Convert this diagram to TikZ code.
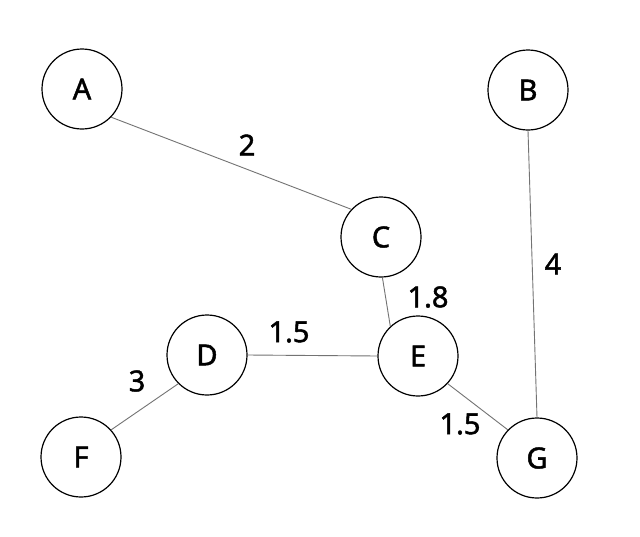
\documentclass[tikz,border=0pt]{standalone}
\usepackage{fontspec}
\setmainfont{Noto Sans}[FakeBold=1.6]
\begin{document}
\begin{tikzpicture}[x=1pt,y=-1pt,
  vert/.style={circle,draw=black,line width=1.2pt,minimum size=80pt,inner sep=0pt,font=\fontsize{29}{32}\bfseries},
  edge/.style={draw=black!55,line width=0.9pt},
  wlabel/.style={inner sep=0pt,font=\fontsize{29}{32}\bfseries}]
\useasboundingbox[fill=white] (0,0) rectangle (640,536);
\node[vert] (A) at (82,89) {A};
\node[vert] (B) at (528,90) {B};
\node[vert] (C) at (381,237) {C};
\node[vert] (D) at (207,355) {D};
\node[vert] (E) at (418,356) {E};
\node[vert] (F) at (81,457) {F};
\node[vert] (G) at (537,458) {G};
\draw[edge] (A.-44) -- (C.137);
\draw[edge] (B.south) -- (G.north);
\draw[edge] (C.-88) -- (E.133);
\draw[edge] (D.east) -- (E.west);
\draw[edge] (D.-135) -- (F.42);
\draw[edge] (E.-43) -- (G.136);
\node[wlabel] (l1) at (247,145) {2};
\node[wlabel] (l2) at (553,264) {4};
\node[wlabel] (l3) at (428,297) {1.8};
\node[wlabel] (l4) at (289,332) {1.5};
\node[wlabel] (l5) at (137,381) {3};
\node[wlabel] (l6) at (460,424) {1.5};
\end{tikzpicture}
\end{document}
